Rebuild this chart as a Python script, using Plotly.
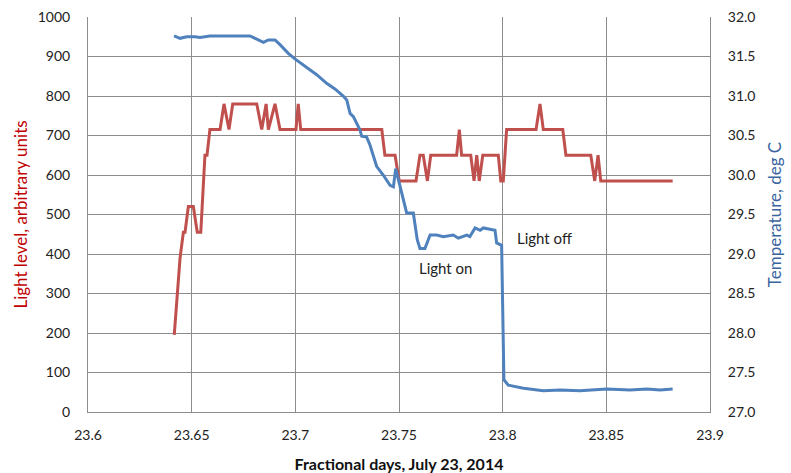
import plotly.graph_objects as go

# Light level (left axis)
light_days = [23.6416, 23.6433, 23.6444, 23.6460, 23.6468, 23.6484, 23.6508, 23.6527, 23.6544,
              23.6564, 23.6574, 23.6588, 23.6637, 23.6656, 23.6680, 23.6698, 23.6814, 23.6838,
              23.6859, 23.6870, 23.6902, 23.6926, 23.7003, 23.7014, 23.7026, 23.7417, 23.7432,
              23.7481, 23.7501, 23.7582, 23.7601, 23.7617, 23.7637, 23.7653, 23.7778, 23.7791,
              23.7802, 23.7846, 23.7862, 23.7875, 23.7887, 23.7904, 23.7979, 23.7991, 23.8003,
              23.8019, 23.8161, 23.8180, 23.8196, 23.8290, 23.8305, 23.8425, 23.8444, 23.8460,
              23.8473, 23.8820]
light_level = [195, 330, 390, 455, 455, 520, 520, 455, 455,
               650, 650, 715, 715, 780, 715, 780, 780, 715,
               780, 715, 780, 715, 715, 780, 715, 715, 650,
               650, 585, 585, 650, 650, 585, 650, 650, 715,
               650, 650, 585, 650, 585, 650, 650, 585, 585,
               715, 715, 780, 715, 715, 650, 650, 585, 650,
               585, 585]

# Temperature (right axis)
temp_days = [23.6415, 23.6444, 23.6476, 23.6516, 23.6540, 23.6588, 23.6637, 23.6781, 23.6814,
             23.6846, 23.6870, 23.6902, 23.6926, 23.6966, 23.6998, 23.7038, 23.7103, 23.7151,
             23.7191, 23.7231, 23.7248, 23.7264, 23.7280, 23.7312, 23.7320, 23.7344, 23.7360,
             23.7392, 23.7424, 23.7457, 23.7473, 23.7484, 23.7513, 23.7537, 23.7569, 23.7588,
             23.7601, 23.7625, 23.7650, 23.7682, 23.7714, 23.7762, 23.7786, 23.7827, 23.7842,
             23.7867, 23.7891, 23.7907, 23.7963, 23.7971, 23.7995, 23.8006, 23.8027, 23.8100,
             23.8196, 23.8277, 23.8373, 23.8502, 23.8614, 23.8695, 23.8759, 23.8820]
temperature = [31.76, 31.73, 31.75, 31.75, 31.74, 31.76, 31.76, 31.76, 31.72,
               31.68, 31.71, 31.71, 31.65, 31.54, 31.47, 31.39, 31.27, 31.16,
               31.09, 31.00, 30.95, 30.78, 30.74, 30.57, 30.49, 30.48, 30.38,
               30.11, 30.00, 29.87, 29.85, 30.08, 29.77, 29.52, 29.52, 29.18,
               29.07, 29.07, 29.24, 29.24, 29.22, 29.24, 29.20, 29.24, 29.22,
               29.33, 29.30, 29.33, 29.30, 29.14, 29.11, 27.41, 27.34, 27.30,
               27.27, 27.28, 27.27, 27.29, 27.28, 27.29, 27.28, 27.29]

x_ticks = [23.6, 23.65, 23.7, 23.75, 23.8, 23.85, 23.9]
x_tick_labels = ["23.6", "23.65", "23.7", "23.75", "23.8", "23.85", "23.9"]
y2_ticks = [27.0, 27.5, 28.0, 28.5, 29.0, 29.5, 30.0, 30.5, 31.0, 31.5, 32.0]
y2_tick_labels = ["27.0", "27.5", "28.0", "28.5", "29.0", "29.5", "30.0", "30.5", "31.0", "31.5", "32.0"]

FONT = "Lato"
GRID = "#8c8c8c"

fig = go.Figure()
fig.add_trace(go.Scatter(x=light_days, y=light_level, mode="lines",
                         line=dict(color="#C0504D", width=3), name="Light level"))
fig.add_trace(go.Scatter(x=temp_days, y=temperature, mode="lines", yaxis="y2",
                         line=dict(color="#4F81BD", width=3), name="Temperature"))

fig.add_annotation(x=23.7722, y=28.82, yref="y2", text="Light on", showarrow=False,
                   font=dict(family=FONT, size=15, color="#222222"))
fig.add_annotation(x=23.8200, y=29.20, yref="y2", text="Light off", showarrow=False,
                   font=dict(family=FONT, size=15, color="#222222"))

fig.update_layout(
    width=791, height=473,
    margin=dict(l=88, r=81, t=17, b=61),
    paper_bgcolor="white", plot_bgcolor="white",
    showlegend=False,
    font=dict(family=FONT, size=14, color="#222222"),
    xaxis=dict(range=[23.6, 23.9], tickvals=x_ticks, ticktext=x_tick_labels,
               showgrid=True, gridcolor=GRID, gridwidth=1, automargin=False,
               showline=True, linecolor=GRID, linewidth=1, zeroline=False,
               ticks="", ticklabelstandoff=10,
               title=dict(text="<b>Fractional days, July 23, 2014</b>",
                          font=dict(family=FONT, size=16, color="#111111"), standoff=17)),
    yaxis=dict(range=[0, 1000], dtick=100, showgrid=True, gridcolor=GRID, gridwidth=1,
               showline=True, linecolor=GRID, linewidth=1, zeroline=False, automargin=False,
               ticks="", ticklabelstandoff=14,
               title=dict(text="Light level, arbitrary units",
                          font=dict(family=FONT, size=17, color="#C00000"), standoff=5)),
    yaxis2=dict(range=[27, 32], tickvals=y2_ticks, ticktext=y2_tick_labels,
                overlaying="y", side="right", showgrid=False, automargin=False,
                showline=True, linecolor=GRID, linewidth=1, zeroline=False,
                ticks="", ticklabelstandoff=14,
                title=dict(text="Temperature, deg C",
                           font=dict(family=FONT, size=17, color="#3A64A0"), standoff=14)),
)

fig.write_html("out.html")
